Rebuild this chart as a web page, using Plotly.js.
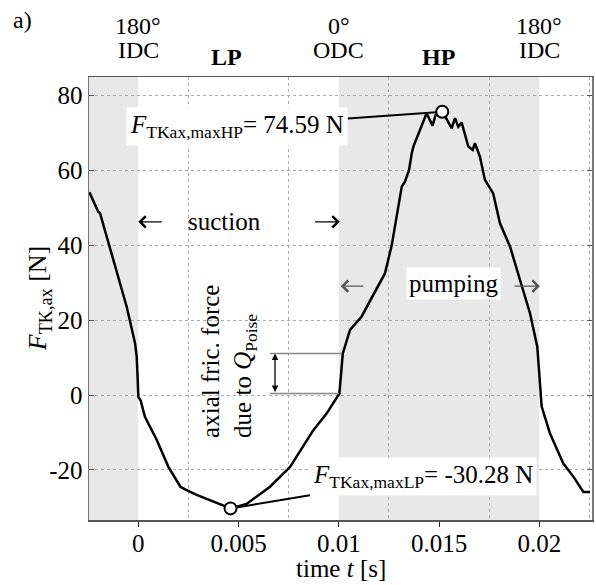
<!DOCTYPE html>
<html>
<head>
<meta charset="utf-8">
<script src="https://cdn.plot.ly/plotly-3.0.1.min.js"></script>
<style>html,body{margin:0;padding:0;background:#fff;}#chart{width:596px;height:585px;}</style>
</head>
<body>
<div id="chart"></div>
<script>
// ---- data ----
const timeS = [-0.00244, -0.00224, -0.0020, -0.00191, -0.00158, -0.00108, -0.00058, -0.00016, -0.00008, -0.00003, 0.0,
  0.00012, 0.00033, 0.00092, 0.0015, 0.0021, 0.00233, 0.00291, 0.00374, 0.0046,
  0.0054, 0.00657, 0.00757, 0.00873, 0.0094, 0.01003, 0.0102, 0.01056, 0.01114, 0.0123, 0.01264, 0.01289,
  0.01314, 0.0133, 0.0135, 0.01364, 0.01372, 0.01438, 0.01468, 0.01483, 0.01516, 0.01535, 0.01563,
  0.0158, 0.01596, 0.01613, 0.01646, 0.01668, 0.01679, 0.01704, 0.01729, 0.0177, 0.01804, 0.01854,
  0.01904, 0.01954, 0.0199, 0.02003, 0.02012, 0.02053, 0.0212, 0.0217, 0.0222, 0.02253];
const forceN = [54.2, 51.7, 49.0, 48.6, 42.3, 32.5, 23.6, 13.8, 10.2, 4.0, -0.5,
  -1.5, -5.8, -12.0, -19.2, -24.5, -25.2, -26.7, -28.5, -30.3,
  -29.1, -24.5, -19.2, -9.4, -4.9, 0.4, 11.1, 17.4, 21.0, 32.5, 40.0, 47.7,
  55.7, 57.0, 60.0, 64.6, 66.4, 75.3, 72.0, 74.9, 75.7, 74.0, 71.3,
  74.0, 71.7, 72.8, 66.4, 65.5, 67.3, 63.7, 57.5, 53.9, 45.9, 39.7,
  30.7, 21.8, 12.9, 4.0, -3.1, -10.2, -18.3, -21.8, -25.9, -25.9];

const maxHP = {t: 0.01516, F: 75.7, label: '74.59 N'};
const maxLP = {t: 0.0046, F: -30.3, label: '-30.28 N'};
const frictionStep = {t: 0.01, low: 0.4, high: 11.1, tLeft: 0.00657};

const xTickVals = [0, 0.005, 0.01, 0.015, 0.02];
const xTickText = ['0', '0.005', '0.01', '0.015', '0.02'];
const xGridVals = [0.0025, 0.0075, 0.0125, 0.0175, 0.0225];
const yTickVals = [-20, 0, 20, 40, 60, 80];
const yTickText = ['-20', '0', '20', '40', '60', '80'];

const shadedPhases = [[-0.0026, 0], [0.01, 0.02]];
const topLabels = [
  {t: 0, deg: '180°', name: 'IDC'},
  {t: 0.01, deg: '0°', name: 'ODC'},
  {t: 0.02, deg: '180°', name: 'IDC'}
];
const phaseLabels = [{t: 0.0044, name: 'LP'}, {t: 0.01495, name: 'HP'}];

const FONT = 'Liberation Serif, Times New Roman, serif';
const fs = 24;

const traces = [
  {x: timeS, y: forceN, type: 'scatter', mode: 'lines',
   line: {color: '#000', width: 2.5}, hoverinfo: 'skip', showlegend: false},
  {x: [maxLP.t, maxHP.t], y: [maxLP.F, maxHP.F], type: 'scatter', mode: 'markers',
   marker: {size: 12, color: '#fff', line: {color: '#000', width: 2}}, showlegend: false}
];

const shapes = shadedPhases.map(p => ({type: 'rect', xref: 'x', yref: 'paper', x0: p[0], x1: p[1], y0: 0, y1: 1,
  fillcolor: '#e8e8e8', line: {width: 0}, layer: 'below'}));
shapes.push({type: 'line', xref: 'x', yref: 'y', x0: frictionStep.tLeft, x1: frictionStep.t + 0.0001,
  y0: frictionStep.high, y1: frictionStep.high, line: {color: '#888', width: 1.5}});
shapes.push({type: 'line', xref: 'x', yref: 'y', x0: frictionStep.tLeft, x1: frictionStep.t,
  y0: frictionStep.low, y1: frictionStep.low, line: {color: '#888', width: 1.5}});

const ann = [];
const txt = (o) => Object.assign({showarrow: false, xanchor: 'center', yanchor: 'middle',
  font: {family: FONT, size: fs, color: '#000'}}, o);
topLabels.forEach(l => {
  ann.push(txt({x: l.t, y: 1.115, xref: 'x', yref: 'paper', text: l.deg}));
  ann.push(txt({x: l.t, y: 1.060, xref: 'x', yref: 'paper', text: l.name}));
});
phaseLabels.forEach(l => {
  ann.push(txt({x: l.t, y: 1.046, xref: 'x', yref: 'paper', text: '<b>' + l.name + '</b>'}));
});
ann.push(txt({x: -0.133, y: 1.128, xref: 'paper', yref: 'paper', text: 'a)'}));

// axis titles
ann.push(txt({x: -0.1, y: 0.5, xref: 'paper', yref: 'paper', textangle: -90,
  text: '<i>F</i><sub>TK,ax</sub> [N]', font: {family: FONT, size: fs + 2, color: '#000'}}));
ann.push(txt({x: 0.5, y: -0.11, xref: 'paper', yref: 'paper',
  text: 'time <i>t</i> [s]', font: {family: FONT, size: fs + 1, color: '#000'}}));

// max annotations
ann.push({x: maxHP.t, y: maxHP.F, xref: 'x', yref: 'y', ax: 0.00494, ay: 71.8, axref: 'x', ayref: 'y',
  text: '<i>F</i><sub>TKax,maxHP</sub>= ' + maxHP.label, showarrow: true, arrowhead: 0, arrowwidth: 2, arrowcolor: '#000',
  standoff: 6, bgcolor: '#fff', borderpad: 3, font: {family: FONT, size: fs + 1, color: '#000'}});
ann.push({x: maxLP.t, y: maxLP.F, xref: 'x', yref: 'y', ax: 0.01422, ay: -21.7, axref: 'x', ayref: 'y',
  text: '<i>F</i><sub>TKax,maxLP</sub>= ' + maxLP.label, showarrow: true, arrowhead: 0, arrowwidth: 2, arrowcolor: '#000',
  standoff: 6, bgcolor: '#fff', borderpad: 3, font: {family: FONT, size: fs + 1, color: '#000'}});

// suction
ann.push(txt({x: 0.00432, y: 46.3, xref: 'x', yref: 'y', text: 'suction', font: {family: FONT, size: fs + 1, color: '#000'}}));
ann.push({x: 0.0, y: 46.3, ax: 0.00124, ay: 46.3, xref: 'x', yref: 'y', axref: 'x', ayref: 'y', text: '', showarrow: true,
  arrowhead: 4, arrowsize: 1.7, arrowwidth: 1.3, arrowcolor: '#000'});
ann.push({x: 0.01005, y: 46.3, ax: 0.00874, ay: 46.3, xref: 'x', yref: 'y', axref: 'x', ayref: 'y', text: '', showarrow: true,
  arrowhead: 4, arrowsize: 1.7, arrowwidth: 1.3, arrowcolor: '#000'});
// pumping
ann.push(txt({x: 0.0157, y: 29.8, xref: 'x', yref: 'y', text: 'pumping', bgcolor: '#fff', borderpad: 2,
  font: {family: FONT, size: fs + 1, color: '#000'}}));
ann.push({x: 0.0101, y: 29.1, ax: 0.01130, ay: 29.1, xref: 'x', yref: 'y', axref: 'x', ayref: 'y', text: '', showarrow: true,
  arrowhead: 4, arrowsize: 1.7, arrowwidth: 1.3, arrowcolor: '#555'});
ann.push({x: 0.02003, y: 29.1, ax: 0.01869, ay: 29.1, xref: 'x', yref: 'y', axref: 'x', ayref: 'y', text: '', showarrow: true,
  arrowhead: 4, arrowsize: 1.7, arrowwidth: 1.3, arrowcolor: '#555'});

// friction step
ann.push(txt({x: 0.00452, y: 9.1, xref: 'x', yref: 'y', textangle: -90, align: 'left',
  text: 'axial fric. force<br>due to <i>Q</i><sub>Poise</sub>', font: {family: FONT, size: fs + 1, color: '#000'}}));
ann.push({x: 0.00682, y: frictionStep.high, ax: 0.00682, ay: frictionStep.low, xref: 'x', yref: 'y', axref: 'x', ayref: 'y',
  text: '', showarrow: true, arrowhead: 2, arrowside: 'end+start', arrowsize: 1, arrowwidth: 1.3, arrowcolor: '#000'});

const layout = {
  width: 596, height: 585,
  margin: {l: 89, r: 4, t: 77, b: 65},
  paper_bgcolor: '#fff', plot_bgcolor: '#fff',
  font: {family: FONT, size: fs, color: '#000'},
  showlegend: false,
  xaxis: {range: [-0.00246, 0.02263], tickvals: xTickVals, ticktext: xTickText, ticks: 'outside', ticklen: 5,
    ticklabelstandoff: -5,
    tickcolor: '#222', showgrid: false, zeroline: false, showline: true, linecolor: '#555', linewidth: 1.5, mirror: true,
    minor: {tickmode: 'array', tickvals: xGridVals, showgrid: true, gridcolor: '#aaa', griddash: 'dot', gridwidth: 1, ticks: ''},
    tickfont: {family: FONT, size: 25}},
  yaxis: {range: [-33.4, 85], tickvals: yTickVals, ticktext: yTickText, ticks: 'inside', ticklen: 5, tickcolor: '#555',
    showgrid: true, gridcolor: '#aaa', griddash: 'dot', gridwidth: 1, zeroline: false,
    showline: true, linecolor: '#777', linewidth: 1.5, mirror: 'ticks',
    tickfont: {family: FONT, size: 25}},
  shapes: shapes,
  annotations: ann
};

Plotly.newPlot('chart', traces, layout, {staticPlot: true, displayModeBar: false});
</script>
</body>
</html>
